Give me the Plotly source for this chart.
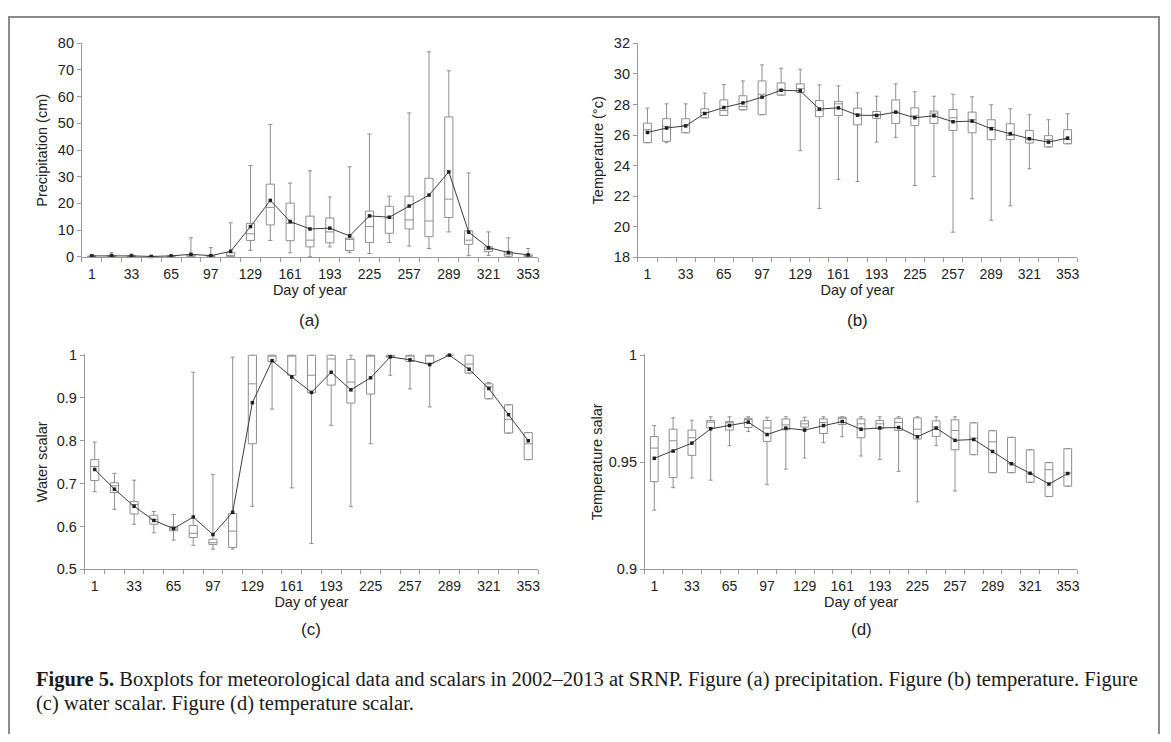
import plotly.graph_objects as go

# The figure sits inside the page body; measured placement of the photographed page:
# shown_x = fig_x + 8, shown_y = 0.979 * (fig_y + 16). Geometry below is given in
# reference-picture pixels and converted with that mapping.
FW, FH = 1155, 726
OFF_X, OFF_Y, SY = 8, 16, 0.979

# ---------------- data ----------------
days = [1, 17, 33, 49, 65, 81, 97, 113, 129, 145, 161, 177, 193, 209, 225, 241,
        257, 273, 289, 305, 321, 337, 353]
tick_days = [1, 33, 65, 97, 129, 161, 193, 225, 257, 289, 321, 353]

# (a) precipitation (cm)
p_min = [0, 0, 0, 0, 0, 0, 0, 0, 2.4, 6.1, 1.5, 0, 3.7, 1.5, 1.2, 5.3, 4.0, 3.1, 9.3, 0.4, 0.5, 0, 0]
p_q1 = [0, 0, 0, 0, 0, 0, 0, 0, 6.1, 11.9, 6.0, 3.7, 5.2, 2.3, 5.3, 8.8, 10.4, 7.5, 14.7, 4.6, 1.9, 0.2, 0]
p_med = [0.1, 0.2, 0.1, 0, 0.1, 0.2, 0.1, 0.5, 8.6, 18.5, 12.5, 6.2, 9.3, 6.5, 11.3, 14.5, 13.8, 13.4, 21.6, 6.2, 2.7, 0.9, 0.3]
p_q3 = [0.3, 0.5, 0.4, 0.1, 0.3, 0.8, 0.4, 1.5, 12.5, 27.2, 20.1, 15.2, 14.5, 7.0, 17.1, 18.9, 22.7, 29.4, 52.4, 9.7, 3.7, 1.9, 0.7]
p_max = [0.8, 1.5, 1.0, 0.3, 0.6, 7.1, 3.4, 12.7, 34.2, 49.6, 27.6, 32.2, 22.4, 33.7, 46.0, 22.7, 53.9, 76.8, 69.7, 31.4, 9.3, 7.1, 3.1]
p_mean = [0.3, 0.4, 0.3, 0.1, 0.3, 0.9, 0.4, 2.0, 11.3, 21.1, 13.2, 10.4, 10.7, 7.8, 15.3, 14.8, 19.0, 23.1, 31.8, 9.2, 3.4, 1.6, 0.7]

# (b) temperature (°C)
t_min = [25.5, 25.5, 26.15, 27.13, 27.28, 27.65, 27.33, 28.61, 24.98, 21.2, 23.1, 22.96, 25.54, 25.85, 22.7, 23.28, 19.65, 21.83, 20.43, 21.37, 23.8, 25.22, 25.43]
t_q1 = [25.5, 25.59, 26.15, 27.13, 27.28, 27.65, 27.33, 28.61, 28.78, 27.2, 27.28, 26.67, 27.09, 26.76, 26.63, 26.76, 26.3, 26.15, 25.7, 25.7, 25.48, 25.22, 25.43]
t_med = [26.35, 26.57, 26.63, 27.46, 27.6, 27.87, 28.67, 28.96, 29.04, 27.6, 28.04, 27.37, 27.35, 27.5, 27.26, 27.43, 27.13, 27.0, 26.5, 25.98, 25.7, 25.7, 25.7]
t_q3 = [26.78, 27.07, 27.07, 27.72, 28.3, 28.57, 29.54, 29.41, 29.35, 28.26, 28.2, 27.76, 27.54, 28.3, 27.78, 27.57, 27.67, 27.5, 27.0, 26.74, 26.3, 25.96, 26.35]
t_max = [27.76, 28.04, 28.04, 28.74, 29.3, 29.54, 30.59, 30.37, 30.3, 29.28, 29.22, 28.76, 28.54, 29.35, 28.83, 28.54, 28.67, 28.5, 27.98, 27.72, 27.33, 27.0, 27.39]
t_mean = [26.17, 26.46, 26.6, 27.41, 27.8, 28.1, 28.48, 28.93, 28.89, 27.7, 27.78, 27.3, 27.28, 27.5, 27.13, 27.26, 26.87, 26.91, 26.41, 26.09, 25.76, 25.54, 25.8]

# (c) water scalar
w_min = [0.681, 0.640, 0.605, 0.585, 0.568, 0.556, 0.547, 0.547, 0.647, 0.874, 0.690, 0.560, 0.836, 0.646, 0.793, 0.953, 0.921, 0.879, 1.0, 0.958, 0.898, 0.818, 0.756]
w_q1 = [0.707, 0.679, 0.629, 0.605, 0.590, 0.574, 0.558, 0.551, 0.793, 0.985, 0.953, 0.912, 0.930, 0.888, 0.909, 0.995, 0.985, 0.981, 1.0, 0.958, 0.898, 0.818, 0.756]
w_med = [0.740, 0.695, 0.651, 0.616, 0.594, 0.584, 0.562, 0.589, 0.933, 1.0, 1.0, 0.953, 0.991, 0.937, 1.0, 1.0, 1.0, 1.0, 1.0, 0.979, 0.926, 0.850, 0.793]
w_q3 = [0.756, 0.702, 0.658, 0.626, 0.599, 0.602, 0.570, 0.630, 1.0, 1.0, 1.0, 1.0, 1.0, 0.990, 1.0, 1.0, 1.0, 1.0, 1.0, 1.0, 0.933, 0.884, 0.819]
w_max = [0.797, 0.724, 0.708, 0.635, 0.628, 0.960, 0.721, 0.995, 1.0, 1.0, 1.0, 1.0, 1.0, 1.0, 1.0, 1.0, 1.0, 1.0, 1.0, 1.0, 0.936, 0.884, 0.819]
w_mean = [0.733, 0.687, 0.647, 0.614, 0.595, 0.622, 0.581, 0.633, 0.889, 0.987, 0.949, 0.913, 0.960, 0.919, 0.947, 0.996, 0.989, 0.978, 1.0, 0.967, 0.922, 0.861, 0.800]

# (d) temperature scalar
s_min = [0.9276, 0.9381, 0.9426, 0.9416, 0.9577, 0.9643, 0.9395, 0.9468, 0.9519, 0.9591, 0.9619, 0.9529, 0.9512, 0.9457, 0.9315, 0.9577, 0.9366, 0.9535, 0.9451, 0.9451, 0.9406, 0.9340, 0.9388]
s_q1 = [0.9409, 0.9428, 0.9532, 0.9660, 0.9650, 0.9662, 0.9597, 0.9651, 0.9664, 0.9634, 0.9676, 0.9614, 0.9656, 0.9648, 0.9608, 0.9620, 0.9558, 0.9535, 0.9451, 0.9451, 0.9406, 0.9340, 0.9388]
s_med = [0.9566, 0.9600, 0.9614, 0.9687, 0.9684, 0.9699, 0.9660, 0.9674, 0.9679, 0.9685, 0.9707, 0.9679, 0.9679, 0.9685, 0.9654, 0.9664, 0.9648, 0.9612, 0.9595, 0.9493, 0.9447, 0.9465, 0.9450]
s_q3 = [0.9620, 0.9654, 0.9650, 0.9695, 0.9690, 0.9705, 0.9695, 0.9702, 0.9693, 0.9702, 0.9710, 0.9702, 0.9695, 0.9705, 0.9707, 0.9693, 0.9698, 0.9684, 0.9647, 0.9616, 0.9558, 0.9498, 0.9563]
s_max = [0.9671, 0.9707, 0.9696, 0.9712, 0.9712, 0.9712, 0.9710, 0.9712, 0.9710, 0.9712, 0.9712, 0.9712, 0.9712, 0.9712, 0.9712, 0.9712, 0.9712, 0.9684, 0.9647, 0.9616, 0.9558, 0.9498, 0.9563]
s_mean = [0.9518, 0.9552, 0.9589, 0.9656, 0.9671, 0.9687, 0.9629, 0.9659, 0.9650, 0.9671, 0.9690, 0.9654, 0.9660, 0.9662, 0.9619, 0.9659, 0.9602, 0.9606, 0.9550, 0.9493, 0.9448, 0.9398, 0.9447]

y_titles = ["Precipitation (cm)", "Temperature (°c)", "Water scalar", "Temperature salar"]
panel_labels = ["(a)", "(b)", "(c)", "(d)"]
y_ranges = [[-0.25, 80], [18, 32], [0.5, 1.0015], [0.9, 1.0003]]
y_ticks = [[0, 10, 20, 30, 40, 50, 60, 70, 80],
           [18, 20, 22, 24, 26, 28, 30, 32],
           [0.5, 0.6, 0.7, 0.8, 0.9, 1.0],
           [0.9, 0.95, 1.0]]
y_ticktext = [["0", "10", "20", "30", "40", "50", "60", "70", "80"],
              ["18", "20", "22", "24", "26", "28", "30", "32"],
              ["0.5", "0.6", "0.7", "0.8", "0.9", "1"],
              ["0.9", "0.95", "1"]]
caption_lines = [
    "<b>Figure 5.</b> Boxplots for meteorological data and scalars in 2002–2013 at SRNP. "
    "Figure (a) precipitation. Figure (b) temperature. Figure",
    "(c) water scalar. Figure (d) temperature scalar.",
]

series = [
    (p_min, p_q1, p_med, p_q3, p_max, p_mean),
    (t_min, t_q1, t_med, t_q3, t_max, t_mean),
    (w_min, w_q1, w_med, w_q3, w_max, w_mean),
    (s_min, s_q1, s_med, s_q3, s_max, s_mean),
]

# ---------------- layout geometry (reference pixels) ----------------
boxes_px = [  # x0, x1, ytop, ybottom
    (82, 539, 43, 257.3),
    (639, 1079, 43, 257.3),
    (85, 539, 354.5, 569.5),
    (646, 1079, 354.5, 569.5),
]
label_y = [320, 320, 630, 630]
ytitle_standoff = [6, 6, 5, 2]

def px_x(v):
    return (v - OFF_X) / FW

def px_y(v):
    return 1 - (v / SY - OFF_Y) / FH

FONT = "Liberation Sans, Arial, sans-serif"
TXT = "#222222"
AXC = "#9a9a9a"
BOXC = "#8e8e8e"

fig = go.Figure()
layout = dict(
    width=FW, height=FH, margin=dict(l=0, r=0, t=0, b=0),
    paper_bgcolor="white", plot_bgcolor="white", showlegend=False,
    font=dict(family=FONT, color=TXT, size=14),
)

half = 8
xmin, xmax = days[0] - half, days[-1] + half
boundaries = [d - half for d in days] + [days[-1] + half]

annotations = []
for k, (s, (x0, x1, yt, yb)) in enumerate(zip(series, boxes_px)):
    suf = "" if k == 0 else str(k + 1)
    xa, ya = "x" + suf, "y" + suf
    mn, q1, md, q3, mx, mean = s
    fig.add_trace(go.Box(
        x=days, q1=q1, median=md, q3=q3, lowerfence=mn, upperfence=mx,
        xaxis=xa, yaxis=ya, width=6.6, whiskerwidth=0.5, boxpoints=False,
        line=dict(color=BOXC, width=1), fillcolor="rgba(255,255,255,0)",
        hoverinfo="skip",
    ))
    fig.add_trace(go.Scatter(
        x=days, y=mean, xaxis=xa, yaxis=ya, mode="lines+markers",
        line=dict(color="#3c3c3c", width=1),
        marker=dict(symbol="square", size=3.5, color="#202020"),
        cliponaxis=False, hoverinfo="skip",
    ))
    layout["xaxis" + suf] = dict(
        domain=[px_x(x0), px_x(x1)], anchor=ya, range=[xmin, xmax],
        tickvals=tick_days, ticktext=[str(d) for d in tick_days], ticks="",
        ticklabelstandoff=4,
        showgrid=False, zeroline=False, showline=True, linecolor=AXC, linewidth=1,
        tickfont=dict(size=14, color=TXT),
        minor=dict(tickvals=boundaries, ticks="outside", ticklen=4, tickcolor=AXC, showgrid=False),
        title=dict(text="Day of year", font=dict(size=14.5, color=TXT), standoff=3),
    )
    layout["yaxis" + suf] = dict(
        domain=[px_y(yb), px_y(yt)], anchor=xa, range=y_ranges[k],
        tickvals=y_ticks[k], ticktext=y_ticktext[k], ticks="outside", ticklen=4,
        tickcolor=AXC, showgrid=False, zeroline=False, showline=True, linecolor=AXC,
        linewidth=1, tickfont=dict(size=14.5, color=TXT),
        title=dict(text=y_titles[k], font=dict(size=14.5, color=TXT), standoff=ytitle_standoff[k]),
    )
    annotations.append(dict(
        text=panel_labels[k], x=px_x((x0 + x1) / 2), y=px_y(label_y[k]),
        xref="paper", yref="paper", showarrow=False, xanchor="center", yanchor="middle",
        font=dict(size=17, color=TXT, family=FONT),
    ))

for line, base in zip(caption_lines, [687, 711]):
    annotations.append(dict(
        text=line, x=px_x(34), y=px_y(base - 7), xref="paper", yref="paper",
        showarrow=False, xanchor="left", yanchor="middle", align="left",
        font=dict(size=20.5, color="#1a1a1a", family="Liberation Serif, Times New Roman, serif"),
    ))
layout["annotations"] = annotations
layout["shapes"] = [dict(
    type="rect", xref="paper", yref="paper",
    x0=px_x(9), x1=px_x(1161), y0=-0.1, y1=1 - 1.0 / FH,
    line=dict(color="#8a8a8a", width=2), fillcolor="rgba(0,0,0,0)", layer="below",
)]
fig.update_layout(**layout)
fig.write_html("out.html")
